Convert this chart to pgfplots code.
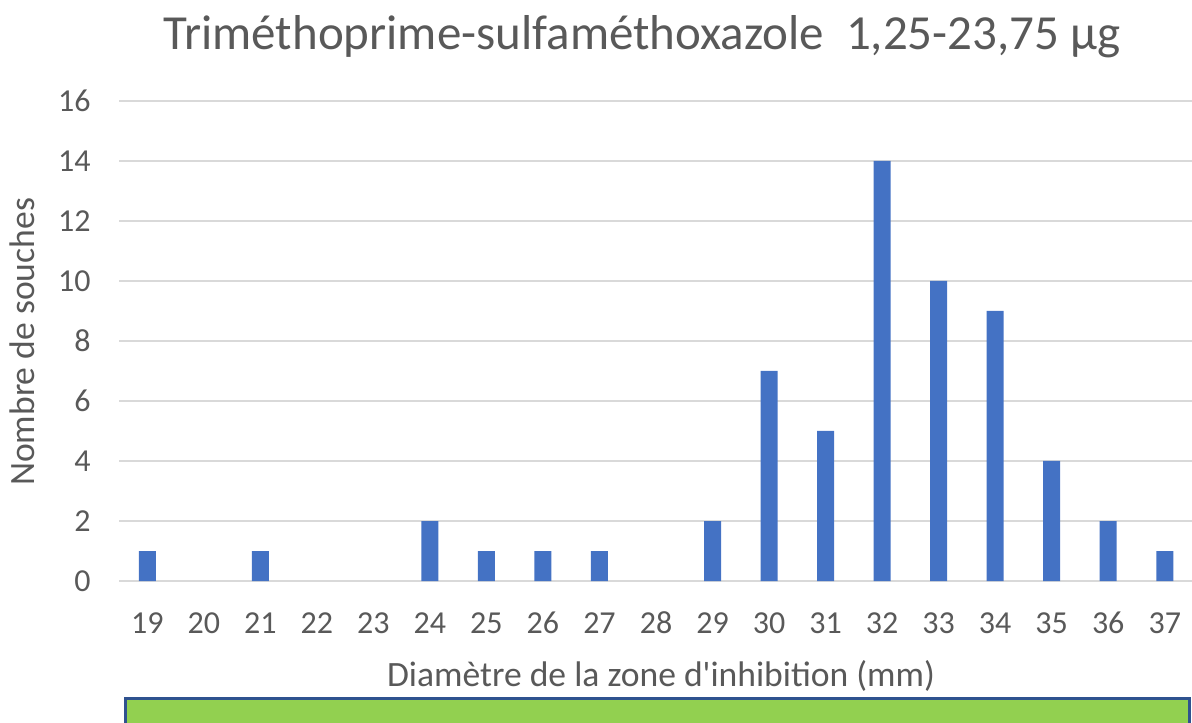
\documentclass[border=0pt]{standalone}
\usepackage{fontspec}
\setmainfont{Carlito}
\usepackage{pgfplots}
\pgfplotsset{compat=1.18}
\definecolor{barblue}{HTML}{4472C4}
\definecolor{gridgray}{HTML}{D9D9D9}
\definecolor{txt}{HTML}{595959}
\definecolor{boxgreen}{HTML}{92D050}
\definecolor{boxblue}{HTML}{2F528F}
\begin{document}
\begin{tikzpicture}
\path[use as bounding box] (0,0) rectangle (596pt,361pt);
\begin{scope}
\clip (0,0) rectangle (596pt,361pt);
\draw[boxblue, fill=boxgreen, line width=1.5pt] (62.5pt,-10pt) rectangle (594.5pt,12pt);
\end{scope}
\begin{axis}[
  at={(59.5pt,70.5pt)}, anchor=south west,
  scale only axis, width=537pt, height=240pt,
  xmin=18.5, xmax=37.5, ymin=0, ymax=16,
  xtick={19,...,37}, ytick={0,2,...,16},
  ymajorgrids, major grid style={gridgray, line width=1.2pt},
  axis line style={draw=none}, tick style={draw=none},
  /pgf/number format/assume math mode=true,
  ticklabel style={text=txt, font=\fontsize{16}{19}\selectfont},
  xticklabel style={anchor=base, yshift=-22pt},
  yticklabel style={anchor=east, inner sep=0pt, xshift=-14pt},
  title={Triméthoprime-sulfaméthoxazole\ \ 1,25-23,75 µg},
  title style={at={(axis description cs:0.487,1.08125)}, anchor=base, text=txt, font=\fontsize{24.5}{29}\selectfont},
  xlabel={Diamètre de la zone d\textquotesingle inhibition (mm)},
  xlabel style={at={(axis description cs:0.5047,-0.2208)}, anchor=base, text=txt, font=\fontsize{17.8}{21}\selectfont},
  ylabel={Nombre de souches},
  ylabel style={at={(axis description cs:-0.079,0.498)}, anchor=base, rotate=0, text=txt, font=\fontsize{17.8}{21}\selectfont},
  ybar, bar width=8.5pt, bar shift=0pt,
]
\addplot[fill=barblue, draw=none] coordinates {
(19,1) (21,1) (24,2) (25,1) (26,1) (27,1)
(29,2) (30,7) (31,5) (32,14) (33,10) (34,9) (35,4) (36,2) (37,1)};
\end{axis}
\end{tikzpicture}
\end{document}
